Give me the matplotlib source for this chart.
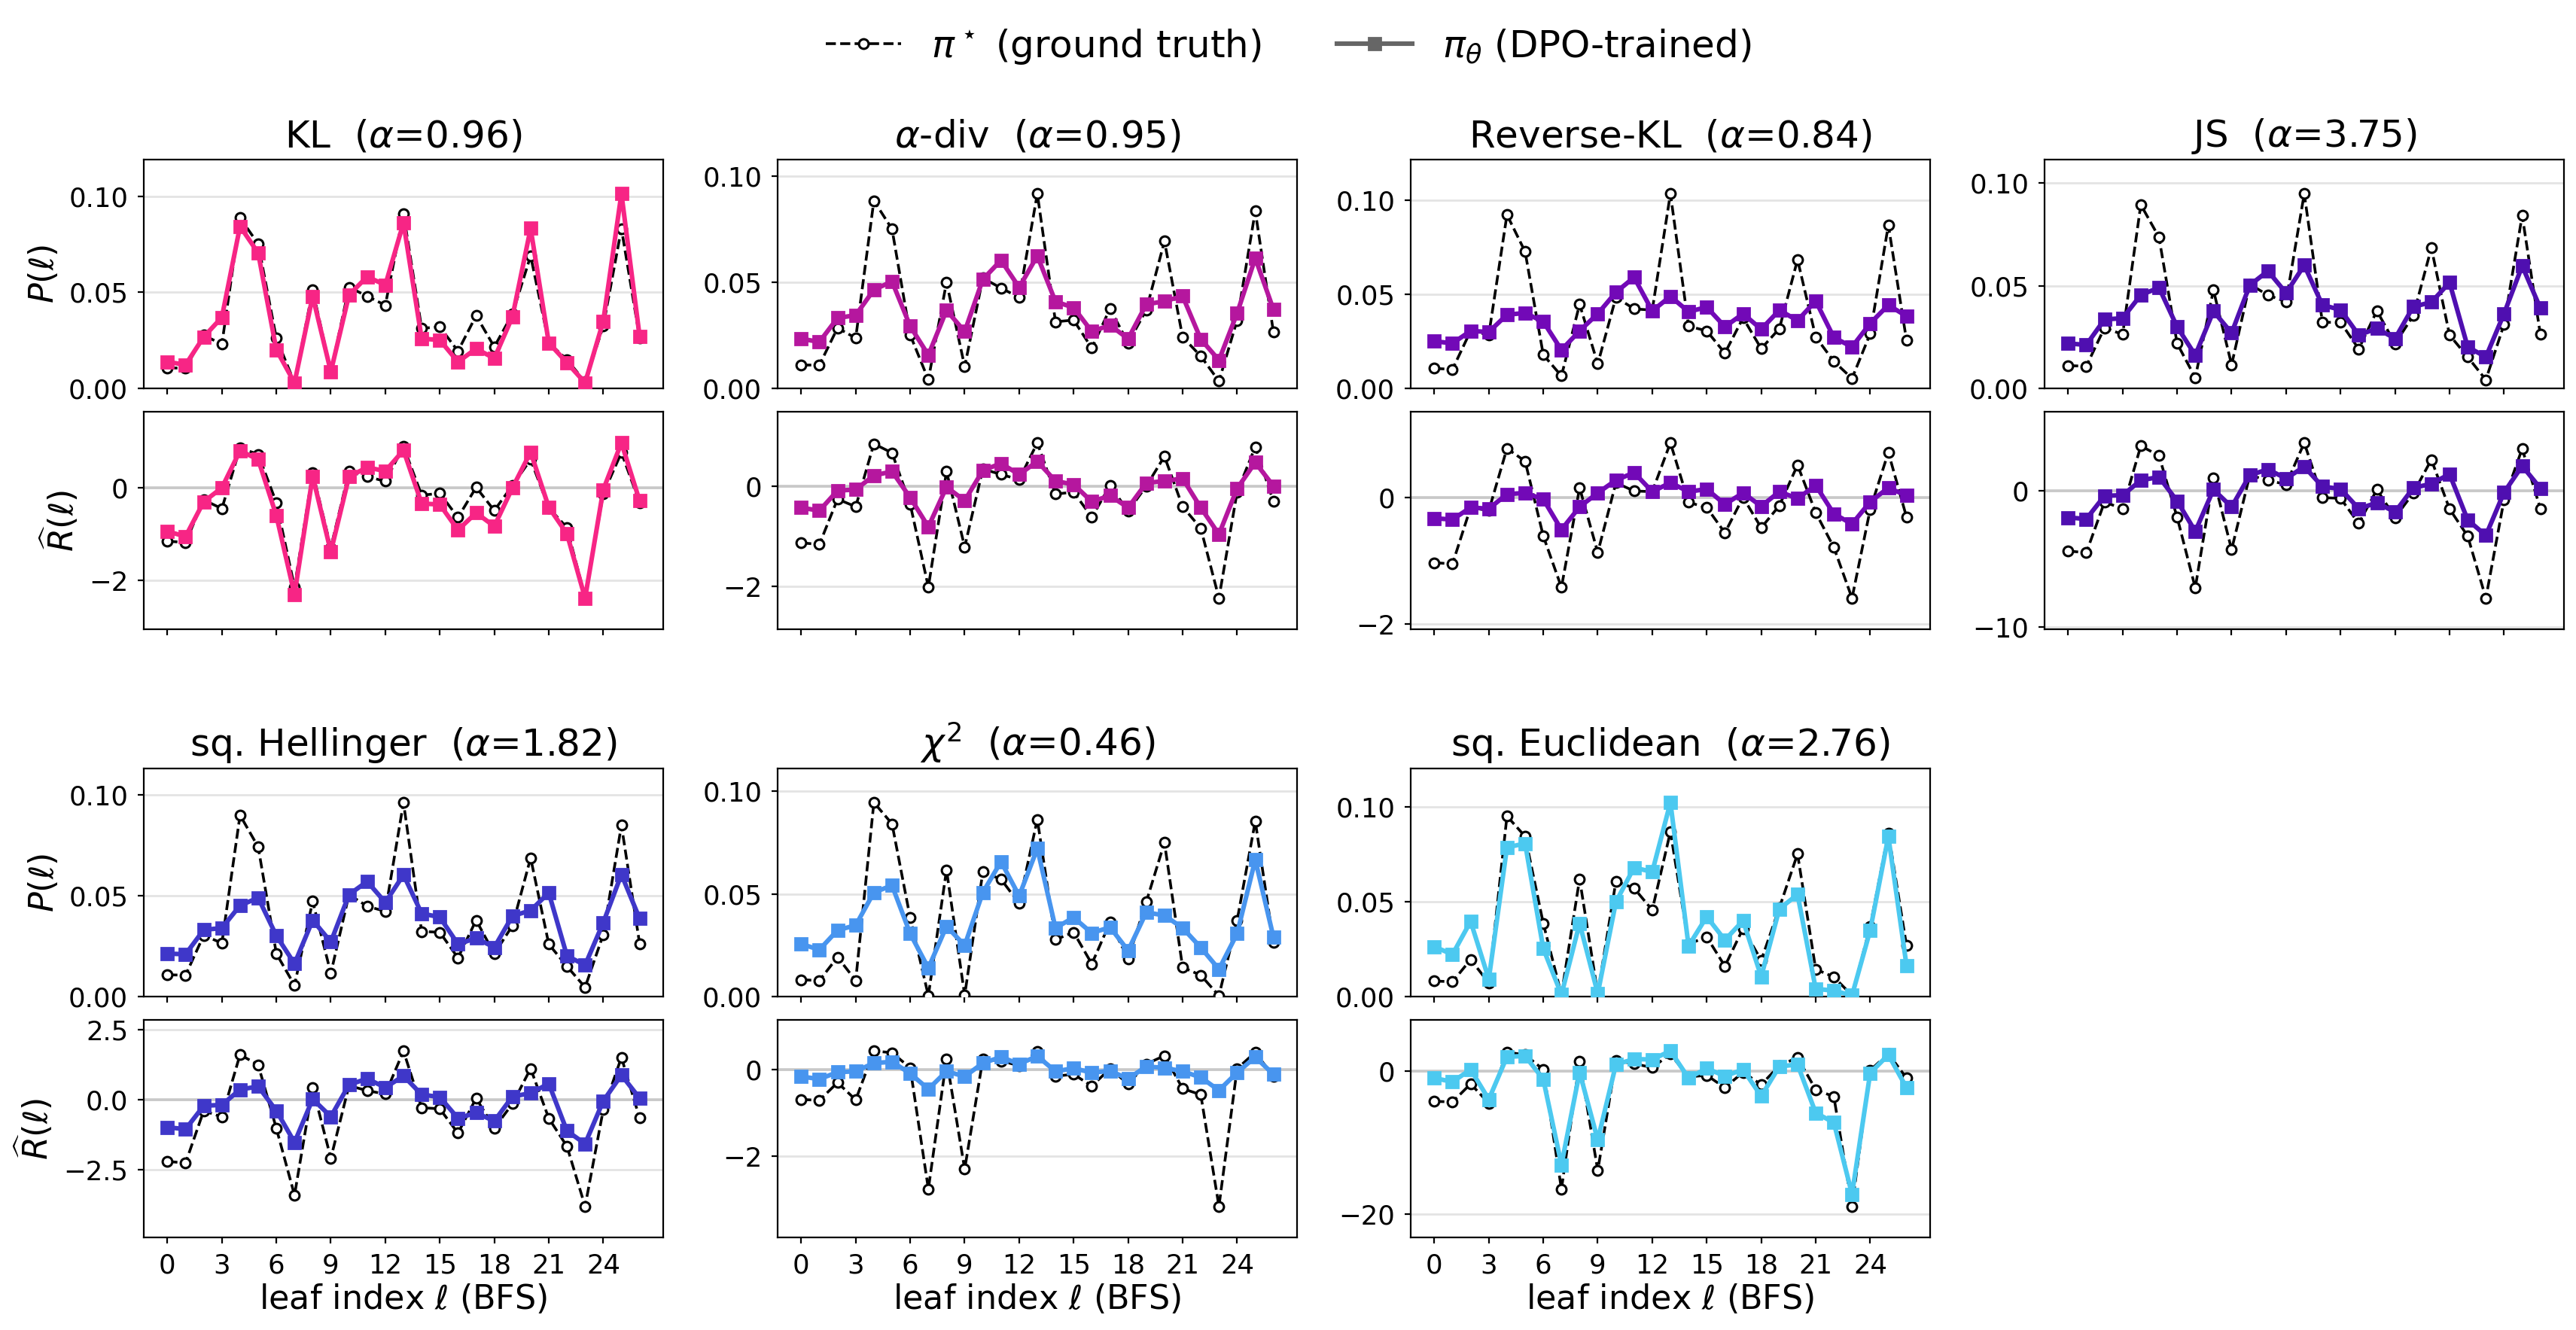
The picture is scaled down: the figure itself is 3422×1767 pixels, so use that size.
import matplotlib
matplotlib.use("Agg")
import matplotlib.pyplot as plt
from matplotlib.lines import Line2D
from matplotlib.ticker import MaxNLocator
import numpy as np

leaves = np.arange(27)

names = ["KL", r"$\alpha$-div", "Reverse-KL", "JS",
         "sq. Hellinger", r"$\chi^2$", "sq. Euclidean"]
alphas = ["0.96", "0.95", "0.84", "3.75", "1.82", "0.46", "2.76"]
colors = ["#f72585", "#b5179e", "#7209b7", "#4f0fb0",
          "#3f37c9", "#4895ef", "#4cc9f0"]

# P(l): ground truth pi* and DPO-trained pi_theta
kl_p_star = [0.0107, 0.0105, 0.0277, 0.0230, 0.0888, 0.0752, 0.0261, 0.0029, 0.0513, 0.0087,
             0.0527, 0.0480, 0.0433, 0.0911, 0.0313, 0.0320, 0.0194, 0.0379, 0.0216, 0.0388,
             0.0690, 0.0237, 0.0150, 0.0034, 0.0324, 0.0832, 0.0264]
kl_p_theta = [0.0138, 0.0123, 0.0268, 0.0370, 0.0844, 0.0705, 0.0201, 0.0029, 0.0480, 0.0087,
              0.0486, 0.0582, 0.0538, 0.0862, 0.0259, 0.0252, 0.0138, 0.0207, 0.0156, 0.0373,
              0.0833, 0.0237, 0.0134, 0.0029, 0.0350, 0.1014, 0.0272]
ad_p_star = [0.0110, 0.0110, 0.0285, 0.0237, 0.0885, 0.0751, 0.0252, 0.0041, 0.0501, 0.0103,
             0.0520, 0.0473, 0.0429, 0.0918, 0.0314, 0.0322, 0.0190, 0.0376, 0.0214, 0.0370,
             0.0694, 0.0242, 0.0152, 0.0034, 0.0321, 0.0836, 0.0265]
ad_p_theta = [0.0234, 0.0219, 0.0332, 0.0345, 0.0465, 0.0504, 0.0293, 0.0157, 0.0368, 0.0268,
              0.0514, 0.0604, 0.0476, 0.0625, 0.0409, 0.0381, 0.0268, 0.0298, 0.0234, 0.0396,
              0.0411, 0.0435, 0.0232, 0.0133, 0.0354, 0.0614, 0.0372]
rkl_p_star = [0.0106, 0.0101, 0.0305, 0.0284, 0.0921, 0.0725, 0.0178, 0.0066, 0.0446, 0.0130,
              0.0483, 0.0422, 0.0415, 0.1033, 0.0330, 0.0305, 0.0187, 0.0374, 0.0211, 0.0317,
              0.0683, 0.0273, 0.0143, 0.0053, 0.0290, 0.0866, 0.0255]
rkl_p_theta = [0.0250, 0.0239, 0.0305, 0.0299, 0.0391, 0.0400, 0.0354, 0.0204, 0.0305, 0.0396,
               0.0510, 0.0589, 0.0411, 0.0488, 0.0407, 0.0431, 0.0327, 0.0396, 0.0314, 0.0415,
               0.0360, 0.0464, 0.0270, 0.0220, 0.0345, 0.0442, 0.0383]
js_p_star = [0.0111, 0.0108, 0.0295, 0.0263, 0.0895, 0.0737, 0.0219, 0.0052, 0.0479, 0.0115,
             0.0508, 0.0454, 0.0423, 0.0949, 0.0322, 0.0322, 0.0192, 0.0378, 0.0218, 0.0354,
             0.0685, 0.0260, 0.0153, 0.0042, 0.0312, 0.0843, 0.0263]
js_p_theta = [0.0219, 0.0212, 0.0336, 0.0342, 0.0455, 0.0491, 0.0300, 0.0162, 0.0376, 0.0270,
              0.0503, 0.0572, 0.0465, 0.0600, 0.0406, 0.0383, 0.0260, 0.0292, 0.0243, 0.0398,
              0.0420, 0.0516, 0.0202, 0.0153, 0.0364, 0.0597, 0.0391]
hel_p_star = [0.0108, 0.0106, 0.0304, 0.0265, 0.0900, 0.0742, 0.0213, 0.0056, 0.0473, 0.0115,
              0.0506, 0.0448, 0.0423, 0.0963, 0.0323, 0.0319, 0.0192, 0.0379, 0.0212, 0.0352,
              0.0688, 0.0260, 0.0150, 0.0046, 0.0308, 0.0850, 0.0263]
hel_p_theta = [0.0213, 0.0210, 0.0331, 0.0340, 0.0452, 0.0490, 0.0302, 0.0163, 0.0379, 0.0271,
               0.0506, 0.0571, 0.0467, 0.0604, 0.0412, 0.0394, 0.0260, 0.0290, 0.0244, 0.0400,
               0.0427, 0.0515, 0.0202, 0.0156, 0.0367, 0.0606, 0.0387]
chi_p_star = [0.0082, 0.0078, 0.0192, 0.0078, 0.0945, 0.0841, 0.0383, 0.0004, 0.0617, 0.0006,
              0.0607, 0.0571, 0.0454, 0.0863, 0.0277, 0.0313, 0.0159, 0.0361, 0.0184, 0.0461,
              0.0750, 0.0142, 0.0104, 0.0004, 0.0370, 0.0854, 0.0264]
chi_p_theta = [0.0256, 0.0228, 0.0323, 0.0347, 0.0507, 0.0541, 0.0306, 0.0139, 0.0342, 0.0249,
               0.0507, 0.0657, 0.0490, 0.0721, 0.0334, 0.0385, 0.0309, 0.0338, 0.0224, 0.0410,
               0.0395, 0.0334, 0.0239, 0.0133, 0.0306, 0.0666, 0.0290]
euc_p_star = [0.0082, 0.0078, 0.0195, 0.0072, 0.0951, 0.0844, 0.0386, 0.0010, 0.0620, 0.0016,
              0.0608, 0.0571, 0.0456, 0.0869, 0.0277, 0.0314, 0.0160, 0.0359, 0.0191, 0.0468,
              0.0752, 0.0144, 0.0103, 0.0006, 0.0370, 0.0862, 0.0269]
euc_p_theta = [0.0263, 0.0222, 0.0396, 0.0092, 0.0786, 0.0807, 0.0253, 0.0010, 0.0386, 0.0016,
               0.0499, 0.0680, 0.0657, 0.1023, 0.0267, 0.0421, 0.0298, 0.0400, 0.0105, 0.0462,
               0.0538, 0.0041, 0.0031, 0.0006, 0.0349, 0.0844, 0.0164]

# R-hat(l): implied rewards
kl_r_star = [-1.15, -1.18, -0.26, -0.45, 0.86, 0.72, -0.32, -2.14, 0.33, -1.29,
             0.35, 0.24, 0.14, 0.89, -0.16, -0.12, -0.64, 0.01, -0.49, 0.05,
             0.61, -0.43, -0.86, -2.36, -0.13, 0.76, -0.32]
kl_r_theta = [-0.94, -1.05, -0.30, 0.00, 0.80, 0.61, -0.60, -2.30, 0.25, -1.38,
              0.24, 0.44, 0.36, 0.81, -0.34, -0.36, -0.91, -0.54, -0.83, 0.00,
              0.77, -0.42, -0.99, -2.38, -0.04, 0.97, -0.28]
ad_r_star = [-1.13, -1.16, -0.26, -0.41, 0.84, 0.66, -0.36, -2.01, 0.29, -1.21,
             0.34, 0.23, 0.13, 0.86, -0.16, -0.12, -0.62, 0.01, -0.50, 0.00,
             0.59, -0.41, -0.84, -2.23, -0.12, 0.78, -0.31]
ad_r_theta = [-0.43, -0.49, -0.09, -0.07, 0.21, 0.29, -0.23, -0.81, -0.02, -0.29,
              0.31, 0.45, 0.23, 0.49, 0.10, 0.03, -0.31, -0.19, -0.43, 0.06,
              0.10, 0.15, -0.43, -0.96, -0.05, 0.47, 0.00]
rkl_r_star = [-1.03, -1.05, -0.16, -0.21, 0.77, 0.57, -0.61, -1.42, 0.15, -0.87,
              0.23, 0.10, 0.09, 0.86, -0.08, -0.16, -0.56, 0.00, -0.48, -0.13,
              0.51, -0.24, -0.79, -1.59, -0.19, 0.71, -0.31]
rkl_r_theta = [-0.33, -0.35, -0.16, -0.18, 0.05, 0.07, -0.03, -0.51, -0.15, 0.07,
               0.27, 0.39, 0.09, 0.23, 0.09, 0.13, -0.11, 0.07, -0.14, 0.09,
               -0.02, 0.19, -0.26, -0.42, -0.07, 0.15, 0.03]
js_r_star = [-4.43, -4.56, -0.84, -1.32, 3.29, 2.58, -1.95, -7.14, 0.96, -4.33,
             1.14, 0.76, 0.46, 3.52, -0.51, -0.56, -2.41, 0.08, -1.97, -0.18,
             2.28, -1.34, -3.34, -7.90, -0.68, 3.09, -1.32]
js_r_theta = [-1.97, -2.08, -0.38, -0.33, 0.76, 1.01, -0.76, -2.99, 0.08, -1.19,
              1.14, 1.57, 0.89, 1.77, 0.30, 0.13, -1.32, -0.89, -1.57, 0.20,
              0.51, 1.22, -2.15, -3.29, -0.13, 1.82, 0.18]
hel_r_star = [-2.20, -2.26, -0.39, -0.61, 1.62, 1.25, -1.02, -3.41, 0.44, -2.09,
              0.51, 0.33, 0.21, 1.75, -0.28, -0.32, -1.19, 0.06, -1.01, -0.14,
              1.12, -0.66, -1.66, -3.81, -0.35, 1.52, -0.65]
hel_r_theta = [-0.98, -1.05, -0.21, -0.18, 0.37, 0.48, -0.39, -1.52, 0.03, -0.60,
               0.54, 0.76, 0.44, 0.86, 0.19, 0.10, -0.66, -0.46, -0.76, 0.12,
               0.24, 0.58, -1.11, -1.57, -0.04, 0.89, 0.06]
chi_r_star = [-0.69, -0.71, -0.30, -0.70, 0.43, 0.39, 0.04, -2.76, 0.24, -2.30,
              0.24, 0.20, 0.09, 0.42, -0.15, -0.11, -0.38, 0.02, -0.33, 0.13,
              0.32, -0.44, -0.58, -3.16, 0.02, 0.40, -0.16]
chi_r_theta = [-0.16, -0.22, -0.06, -0.04, 0.15, 0.18, -0.09, -0.45, -0.04, -0.16,
               0.15, 0.29, 0.13, 0.31, -0.04, 0.03, -0.07, -0.03, -0.21, 0.07,
               0.04, -0.04, -0.18, -0.48, -0.07, 0.29, -0.11]
euc_r_star = [-4.22, -4.32, -1.78, -4.49, 2.65, 2.27, 0.22, -16.5, 1.35, -13.9,
              1.46, 1.03, 0.49, 2.38, -0.81, -0.59, -2.32, -0.16, -1.89, 0.76,
              1.89, -2.59, -3.57, -18.9, 0.11, 2.43, -0.97]
euc_r_theta = [-0.97, -1.51, 0.22, -3.95, 2.00, 2.11, -1.14, -13.1, -0.16, -9.62,
               0.92, 1.68, 1.62, 2.81, -0.97, 0.38, -0.70, 0.22, -3.51, 0.65,
               0.92, -5.84, -7.19, -17.2, -0.27, 2.27, -2.32]

p_star = [kl_p_star, ad_p_star, rkl_p_star, js_p_star, hel_p_star, chi_p_star, euc_p_star]
p_theta = [kl_p_theta, ad_p_theta, rkl_p_theta, js_p_theta, hel_p_theta, chi_p_theta, euc_p_theta]
r_star = [kl_r_star, ad_r_star, rkl_r_star, js_r_star, hel_r_star, chi_r_star, euc_r_star]
r_theta = [kl_r_theta, ad_r_theta, rkl_r_theta, js_r_theta, hel_r_theta, chi_r_theta, euc_r_theta]

W, H = 3423, 1767
fig = plt.figure(figsize=(W / 200, H / 200), dpi=200)

col_left = [191, 1033, 1874, 2716]
ax_w = 690
rows = [((212, 516), (547, 836)), ((1021, 1324), (1355, 1644))]


def box(x0, y0, y1):
    return [x0 / W, 1 - y1 / H, ax_w / W, (y1 - y0) / H]


star_kw = dict(color="black", ls="--", lw=1.3, marker="o", ms=4.6,
               mfc="white", mec="black", mew=1.1, zorder=3)
TICK = 12.8

for i in range(7):
    r, c = divmod(i, 4)
    (pt, pb), (rt, rb) = rows[r]
    axp = fig.add_axes(box(col_left[c], pt, pb))
    axr = fig.add_axes(box(col_left[c], rt, rb))
    th_kw = dict(color=colors[i], ls="-", lw=2.2, marker="s", ms=5.5, zorder=4)

    axp.plot(leaves, p_star[i], **star_kw)
    axp.plot(leaves, p_theta[i], **th_kw)
    top = max(max(p_star[i]), max(p_theta[i])) * 1.175
    axp.set_ylim(0, top)
    axp.set_yticks([0, 0.05, 0.10])
    axp.set_yticklabels(["0.00", "0.05", "0.10"])
    axp.set_title(f"{names[i]}  ($\\alpha$={alphas[i]})", fontsize=18, pad=6)

    axr.axhline(0, color="#c8c8c8", lw=1.3, zorder=1)
    axr.plot(leaves, r_star[i], **star_kw)
    axr.plot(leaves, r_theta[i], **th_kw)
    lo = min(min(r_star[i]), min(r_theta[i]))
    hi = max(max(r_star[i]), max(r_theta[i]))
    pad = 0.2 * (hi - lo)
    axr.set_ylim(lo - pad, hi + pad)
    axr.yaxis.set_major_locator(MaxNLocator(nbins=3, steps=[1, 2, 2.5, 5, 10]))

    for ax in (axp, axr):
        ax.set_xticks(np.arange(0, 27, 3))
        ax.grid(axis="y", color="#e4e4e4", lw=1.0, zorder=0)
        ax.set_axisbelow(True)
        ax.tick_params(labelsize=TICK, length=3, pad=4.5)
    axp.tick_params(labelbottom=False)
    if r == 1:
        axr.set_xlabel(r"leaf index $\ell$ (BFS)", fontsize=16, labelpad=2)
    else:
        axr.tick_params(labelbottom=False)
    if c == 0:
        axp.set_ylabel(r"$P(\ell)$", fontsize=16)
        axr.set_ylabel(r"$\widehat{R}(\ell)$", fontsize=16)

handles = [
    Line2D([], [], color="black", ls="--", lw=1.3, marker="o", ms=4.6,
           mfc="white", mec="black", mew=1.1),
    Line2D([], [], color="#666666", ls="-", lw=2.2, marker="s", ms=5.5),
]
fig.legend(handles, [r"$\pi^\star$ (ground truth)", r"$\pi_\theta$ (DPO-trained)"],
           loc="center", bbox_to_anchor=(0.5, 1 - 62 / H), ncol=2, frameon=False,
           fontsize=18, columnspacing=2.0, handlelength=2.0)

fig.savefig("out.png", dpi=200)
